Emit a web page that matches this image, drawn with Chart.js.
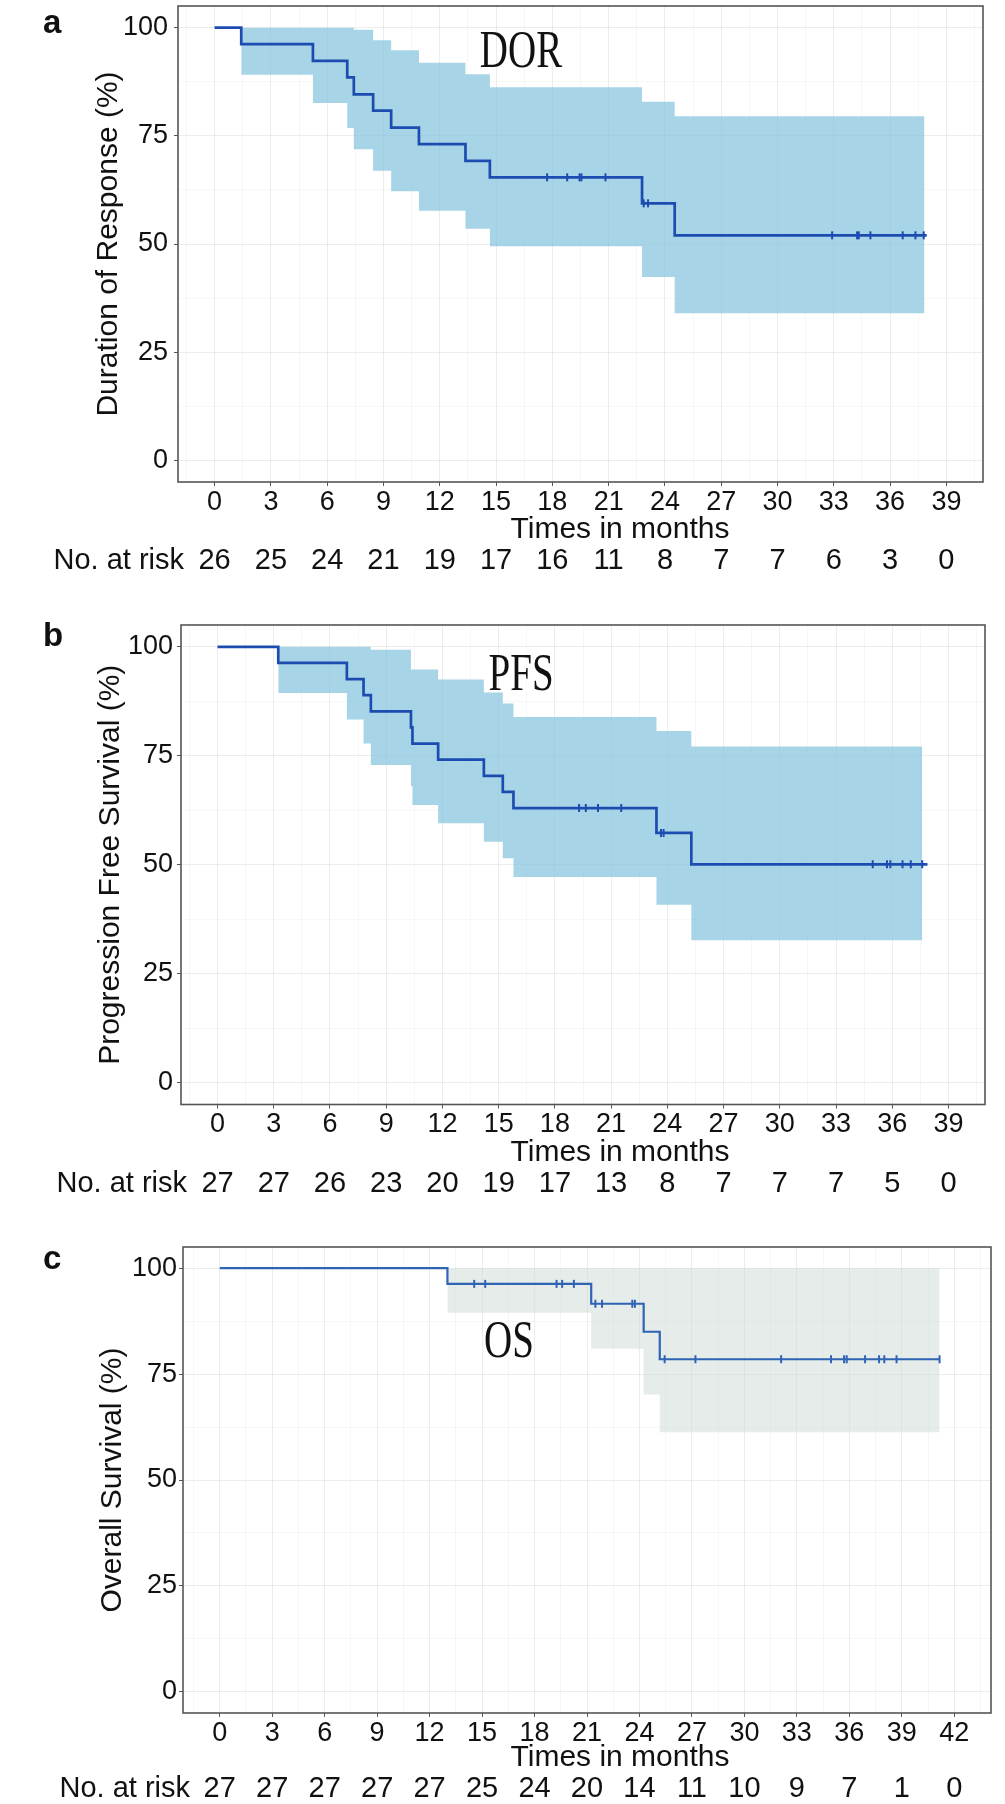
<!DOCTYPE html>
<html>
<head>
<meta charset="utf-8">
<script src="https://cdn.jsdelivr.net/npm/chart.js@4.4.1/dist/chart.umd.min.js"></script>
<style>
  html, body { margin: 0; padding: 0; background: #fff; }
  body { width: 1005px; height: 1804px; position: relative; overflow: hidden; }
  .panel { position: absolute; left: 0; width: 1005px; }
</style>
</head>
<body>
<div class="panel" style="top:0;height:600px"><canvas id="grafico-a"></canvas></div>
<div class="panel" style="top:600px;height:620px"><canvas id="grafico-b"></canvas></div>
<div class="panel" style="top:1220px;height:584px"><canvas id="grafico-c"></canvas></div>
<script>
// Curvas de Kaplan-Meier (meses, %)
const tiemposDOR = [0, 1.42, 5.24, 7.07, 7.42, 8.45, 9.41, 10.89, 13.37, 14.67, 22.78, 24.52, 37.95];
const survDOR = [100, 96.2, 92.3, 88.5, 84.6, 80.8, 76.9, 73.1, 69.2, 65.4, 59.4, 52.0, 52.0];
const censuraTiemposDOR = [17.72, 18.79, 19.45, 19.55, 20.83, 22.87, 23.1, 32.91, 34.24, 34.33, 34.95, 36.67, 37.35, 37.79];
const censuraSurvDOR = [65.4, 65.4, 65.4, 65.4, 65.4, 59.4, 59.4, 52.0, 52.0, 52.0, 52.0, 52.0, 52.0, 52.0];
const bandaTiemposDOR = [1.42, 5.24, 7.07, 7.42, 8.45, 9.41, 10.89, 13.37, 14.67, 22.78, 24.52, 37.83];
const bandaSupDOR = [100, 100, 100, 99.5, 97.1, 94.8, 91.9, 89.2, 86.2, 82.9, 79.5, 79.5];
const bandaInfDOR = [89.1, 82.6, 76.8, 71.9, 66.9, 62.2, 57.7, 53.5, 49.5, 42.4, 34.0, 34.0];

const tiemposPFS = [0, 3.24, 6.9, 7.79, 8.18, 10.32, 10.4, 11.77, 14.21, 15.22, 15.79, 23.42, 25.28, 37.88];
const survPFS = [100, 96.3, 92.6, 88.9, 85.2, 81.5, 77.8, 74.1, 70.4, 66.7, 63.0, 57.3, 50.1, 50.1];
const censuraTiemposPFS = [19.29, 19.65, 20.3, 21.54, 23.66, 23.8, 34.96, 35.72, 35.9, 36.55, 36.99, 37.6];
const censuraSurvPFS = [63.0, 63.0, 63.0, 63.0, 57.3, 57.3, 50.1, 50.1, 50.1, 50.1, 50.1, 50.1];
const bandaTiemposPFS = [3.24, 6.9, 7.79, 8.18, 10.32, 10.4, 11.77, 14.21, 15.22, 15.79, 23.42, 25.28, 37.6];
const bandaSupPFS = [100, 100, 100, 99.3, 94.8, 94.8, 92.5, 89.5, 87.0, 83.9, 80.7, 77.1, 77.1];
const bandaInfPFS = [89.4, 83.3, 77.8, 72.9, 68.0, 63.7, 59.5, 55.3, 51.5, 47.2, 40.8, 32.7, 32.7];

const tiemposOS = [0, 13.02, 21.24, 24.24, 25.16, 41.16];
const survOS = [100, 96.3, 91.6, 85.0, 78.5, 78.5];
const censuraTiemposOS = [14.55, 15.18, 19.26, 19.58, 20.25, 21.48, 21.86, 23.59, 23.74, 25.44, 27.2, 32.1, 34.95, 35.7, 35.85, 36.9, 37.7, 38.0, 38.7, 41.16];
const censuraSurvOS = [96.3, 96.3, 96.3, 96.3, 96.3, 91.6, 91.6, 91.6, 91.6, 78.5, 78.5, 78.5, 78.5, 78.5, 78.5, 78.5, 78.5, 78.5, 78.5, 78.5];
const bandaTiemposOS = [13.02, 21.24, 24.24, 25.16, 41.16];
const bandaSupOS = [100, 100, 100, 100, 100];
const bandaInfOS = [89.5, 81.0, 70.2, 61.3, 61.3];

// Ejes y tabla de pacientes en riesgo
const mesesAB = [0, 3, 6, 9, 12, 15, 18, 21, 24, 27, 30, 33, 36, 39];
const mesesC = [0, 3, 6, 9, 12, 15, 18, 21, 24, 27, 30, 33, 36, 39, 42];
const marcasY = [0, 25, 50, 75, 100];
const riesgoDOR = [26, 25, 24, 21, 19, 17, 16, 11, 8, 7, 7, 6, 3, 0];
const riesgoPFS = [27, 27, 26, 23, 20, 19, 17, 13, 8, 7, 7, 7, 5, 0];
const riesgoOS = [27, 27, 27, 27, 27, 25, 24, 20, 14, 11, 10, 9, 7, 1, 0];

const FUENTE = '"Liberation Sans", Arial, Helvetica, sans-serif';
const SERIF = '"Liberation Serif", "Times New Roman", serif';

function puntos(xs, ys) {
  return xs.map((x, i) => ({ x: x, y: ys[i] }));
}

// Marco, letra del panel, titulo x, tabla en riesgo y anotacion
function pluginTextos(cfg) {
  return {
    id: 'textos-' + cfg.letra,
    afterDraw(chart) {
      const { ctx, chartArea: area, scales } = chart;
      ctx.save();
      ctx.strokeStyle = '#555';
      ctx.lineWidth = 1.6;
      ctx.strokeRect(area.left, area.top, area.right - area.left, area.bottom - area.top);

      ctx.fillStyle = '#111';
      ctx.textBaseline = 'alphabetic';
      ctx.font = 'bold 33px ' + FUENTE;
      ctx.textAlign = 'left';
      ctx.fillText(cfg.letra, 43, cfg.letraY);

      ctx.font = '30px ' + FUENTE;
      ctx.textAlign = 'center';
      ctx.fillText('Times in months', cfg.tituloXCentro, area.bottom + cfg.tituloXDy);

      ctx.font = '29px ' + FUENTE;
      ctx.textAlign = 'right';
      ctx.fillText('No. at risk', cfg.riesgoEtiquetaX, area.bottom + cfg.riesgoDy);
      ctx.textAlign = 'center';
      cfg.meses.forEach((m, i) => {
        ctx.fillText(String(cfg.riesgo[i]), scales.x.getPixelForValue(m), area.bottom + cfg.riesgoDy);
      });

      ctx.font = '52px ' + SERIF;
      ctx.translate(scales.x.getPixelForValue(cfg.nota.x), scales.y.getPixelForValue(cfg.nota.y));
      ctx.scale(0.75, 1);
      ctx.fillText(cfg.nota.texto, 0, 0);
      ctx.restore();
    }
  };
}

function crearGrafico(cfg) {
  const paso = cfg.meses[1] - cfg.meses[0];
  const gridX = [cfg.meses[0] - paso / 2];
  cfg.meses.forEach(m => { gridX.push(m); gridX.push(m + paso / 2); });
  const gridY = [];
  marcasY.forEach((v, i) => { gridY.push(v); if (i < marcasY.length - 1) gridY.push(v + 12.5); });

  const esMayorX = v => cfg.meses.includes(v);
  const esMayorY = v => marcasY.includes(v);

  new Chart(document.getElementById(cfg.canvas), {
    type: 'line',
    data: {
      datasets: [
        {
          data: puntos(cfg.tiempos, cfg.surv),
          stepped: 'before',
          borderColor: cfg.colorLinea,
          borderWidth: cfg.grosor,
          pointRadius: 0,
          fill: false,
          order: 1
        },
        {
          data: puntos(cfg.censuraT, cfg.censuraS),
          showLine: false,
          pointStyle: 'line',
          rotation: 90,
          pointRadius: 4,
          pointBorderWidth: 2,
          borderColor: cfg.colorLinea,
          pointBorderColor: cfg.colorLinea,
          order: 0
        },
        {
          data: puntos(cfg.bandaT, cfg.bandaSup),
          stepped: 'before',
          borderColor: 'transparent',
          borderWidth: 0,
          pointRadius: 0,
          fill: false,
          order: 3
        },
        {
          data: puntos(cfg.bandaT, cfg.bandaInf),
          stepped: 'before',
          borderColor: 'transparent',
          borderWidth: 0,
          pointRadius: 0,
          fill: '-1',
          backgroundColor: cfg.colorBanda,
          order: 2
        }
      ]
    },
    options: {
      responsive: true,
      maintainAspectRatio: false,
      animation: false,
      events: [],
      layout: { padding: { top: cfg.area.top, right: 1005 - cfg.area.right, left: 0, bottom: 0 } },
      plugins: { legend: { display: false }, tooltip: { enabled: false } },
      scales: {
        x: {
          type: 'linear',
          min: cfg.xMin,
          max: cfg.xMax,
          afterBuildTicks: s => { s.ticks = gridX.map(v => ({ value: v })); },
          afterFit: s => { s.height = cfg.alto - cfg.area.bottom; s.paddingLeft = 0; s.paddingRight = 0; },
          border: { display: false },
          grid: {
            color: c => esMayorX(c.tick.value) ? 'rgba(0,0,0,0.07)' : 'rgba(0,0,0,0.03)',
            tickColor: c => esMayorX(c.tick.value) ? '#555' : 'rgba(0,0,0,0)',
            tickLength: 4,
            lineWidth: 1
          },
          ticks: {
            autoSkip: false,
            maxRotation: 0,
            minRotation: 0,
            padding: 0,
            color: '#111',
            font: { family: FUENTE, size: 27 },
            callback: v => esMayorX(v) ? String(v) : ''
          }
        },
        y: {
          type: 'linear',
          min: -5,
          max: 105,
          afterBuildTicks: s => { s.ticks = gridY.map(v => ({ value: v })); },
          afterFit: s => { s.width = cfg.area.left; s.paddingTop = 0; s.paddingBottom = 0; },
          border: { display: false },
          grid: {
            color: c => esMayorY(c.tick.value) ? 'rgba(0,0,0,0.07)' : 'rgba(0,0,0,0.03)',
            tickColor: c => esMayorY(c.tick.value) ? '#555' : 'rgba(0,0,0,0)',
            tickLength: 4,
            lineWidth: 1
          },
          ticks: {
            autoSkip: false,
            padding: cfg.padTicksY,
            color: '#111',
            font: { family: FUENTE, size: 27 },
            callback: v => esMayorY(v) ? String(v) : ''
          },
          title: {
            display: true,
            text: cfg.tituloY,
            color: '#111',
            font: { family: FUENTE, size: 30 },
            padding: { top: cfg.padTituloY, bottom: 0 }
          }
        }
      }
    },
    plugins: [pluginTextos(cfg)]
  });
}

const AZUL = '#1d4cb0';
const CELESTE = 'rgba(129,194,219,0.7)';

crearGrafico({
  canvas: 'grafico-a', letra: 'a', alto: 600,
  area: { left: 178, top: 3, right: 983, bottom: 482 },
  xMin: -1.95, xMax: 40.95, meses: mesesAB, riesgo: riesgoDOR,
  tiempos: tiemposDOR, surv: survDOR,
  censuraT: censuraTiemposDOR, censuraS: censuraSurvDOR,
  bandaT: bandaTiemposDOR, bandaSup: bandaSupDOR, bandaInf: bandaInfDOR,
  colorLinea: AZUL, grosor: 2.7, colorBanda: CELESTE,
  tituloY: 'Duration of Response (%)', padTituloY: 91, padTicksY: 6,
  letraY: 33, tituloXCentro: 620, tituloXDy: 56, riesgoDy: 87, riesgoEtiquetaX: 184,
  nota: { texto: 'DOR', x: 16.33, y: 90.8 }
});

crearGrafico({
  canvas: 'grafico-b', letra: 'b', alto: 620,
  area: { left: 181, top: 25, right: 985, bottom: 504.5 },
  xMin: -1.95, xMax: 40.95, meses: mesesAB, riesgo: riesgoPFS,
  tiempos: tiemposPFS, surv: survPFS,
  censuraT: censuraTiemposPFS, censuraS: censuraSurvPFS,
  bandaT: bandaTiemposPFS, bandaSup: bandaSupPFS, bandaInf: bandaInfPFS,
  colorLinea: AZUL, grosor: 2.7, colorBanda: CELESTE,
  tituloY: 'Progression Free Survival (%)', padTituloY: 93, padTicksY: 4,
  letraY: 46, tituloXCentro: 620, tituloXDy: 56, riesgoDy: 87, riesgoEtiquetaX: 187,
  nota: { texto: 'PFS', x: 16.2, y: 90.1 }
});

crearGrafico({
  canvas: 'grafico-c', letra: 'c', alto: 584,
  area: { left: 183, top: 27, right: 991, bottom: 493 },
  xMin: -2.1, xMax: 44.1, meses: mesesC, riesgo: riesgoOS,
  tiempos: tiemposOS, surv: survOS,
  censuraT: censuraTiemposOS, censuraS: censuraSurvOS,
  bandaT: bandaTiemposOS, bandaSup: bandaSupOS, bandaInf: bandaInfOS,
  colorLinea: '#2f64b5', grosor: 2.2, colorBanda: 'rgba(203,217,211,0.5)',
  tituloY: 'Overall Survival (%)', padTituloY: 95, padTicksY: 2,
  letraY: 49, tituloXCentro: 620, tituloXDy: 53, riesgoDy: 84, riesgoEtiquetaX: 190,
  nota: { texto: 'OS', x: 16.54, y: 79.1 }
});
</script>
</body>
</html>
